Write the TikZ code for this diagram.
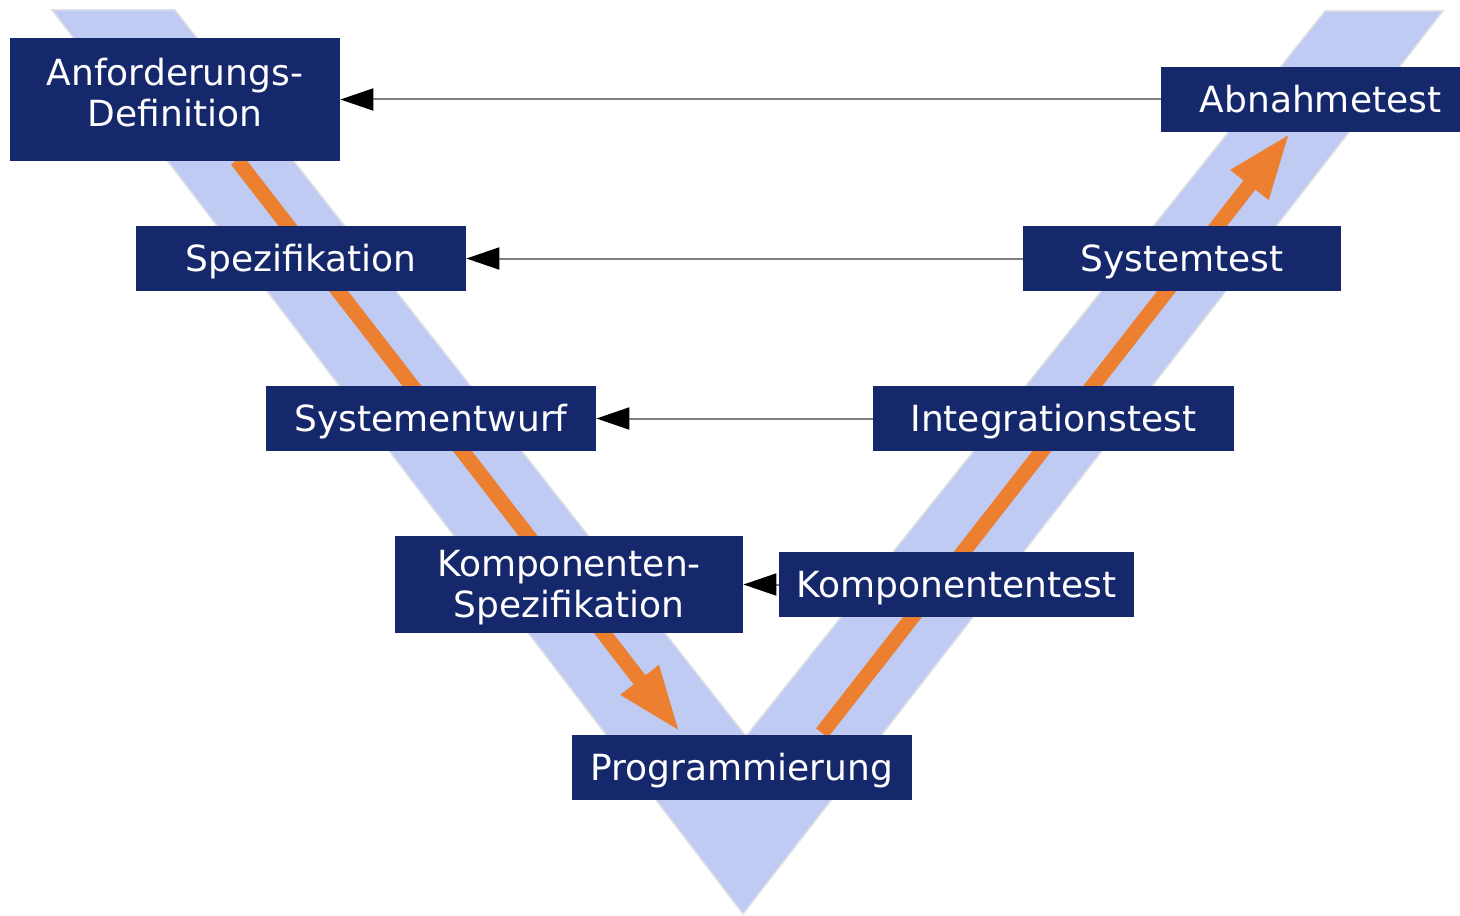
\documentclass[tikz,border=0pt]{standalone}
\usepackage{fontspec}
\setmainfont{DejaVu Sans}
\usepackage{tikz}
\usetikzlibrary{arrows.meta,positioning}
\definecolor{navy}{RGB}{21,40,108}
\definecolor{vband}{RGB}{191,203,243}
\definecolor{vedge}{RGB}{226,226,228}
\definecolor{flowor}{RGB}{237,128,48}
\tikzset{phase/.style={rectangle,fill=navy,text=white,inner sep=0pt,align=center,
    font=\fontsize{18pt}{20.5pt}\selectfont},
  oneline/.style={phase,text height=13.1pt,text depth=0pt},
  back/.style={draw=gray,line width=1pt,-{Triangle[length=16.5pt,width=11pt,color=black]}},
  flow/.style={draw=flowor,line width=7.5pt,-{Triangle[length=33pt,width=22pt]}}}

\begin{document}
\begin{tikzpicture}[x=0.5pt,y=-0.5pt]
    \useasboundingbox (0,0) rectangle (1460,915);
    % the V
    \fill[vband,draw=vedge,line width=0.75pt] (52,10) -- (175,10) -- (746,736) -- (1325,11)
        -- (1443,11) -- (743,914) -- cycle;

    \coordinate (dstart) at (237,160);
    \coordinate (dend) at (680,732);
    \coordinate (ustart) at (822,733);
    \coordinate (uend) at (1290,133);
    \draw [flow] (dstart) -- (dend);
    \draw [flow] (ustart) -- (uend);

    \node[phase,text depth=7pt,minimum width=165pt,minimum height=61pt] (anf)at (175,99.5) {Anforderungs-\\Definition};
    \node[oneline,minimum width=165pt,minimum height=32.5pt] (spez)at (301,258.5) {Spezifikation};
    \node[oneline,minimum width=165pt,minimum height=32.5pt] (sysent)at (431,418.5) {Systementwurf};
    \node[phase,text depth=0.3pt,minimum width=174pt,minimum height=48.5pt] (kspez)at (569,584.5) {Komponenten-\\Spezifikation};
    \node[oneline,minimum width=170pt,minimum height=32.5pt] (prog)at (742,767.5) {Programmierung};
    \node[oneline,minimum width=177.5pt,minimum height=32.5pt] (ktest)at (956.5,584.5) {Komponententest};
    \node[oneline,minimum width=180.5pt,minimum height=32.5pt] (itest)at (1053.5,418.5) {Integrationstest};
    \node[oneline,minimum width=159pt,minimum height=32.5pt] (stest)at (1182,258.5) {Systemtest};
    \node[oneline,minimum width=159.5pt,minimum height=32.5pt] (atest)at (1320.5,99.5) {Abnahmetest};

    \draw [back] (atest) -- (anf);
    \draw [back] (stest) -- (spez);
    \draw [back] (itest) -- (sysent);
    \draw [back] (ktest) -- (kspez);
\end{tikzpicture}
\end{document}
